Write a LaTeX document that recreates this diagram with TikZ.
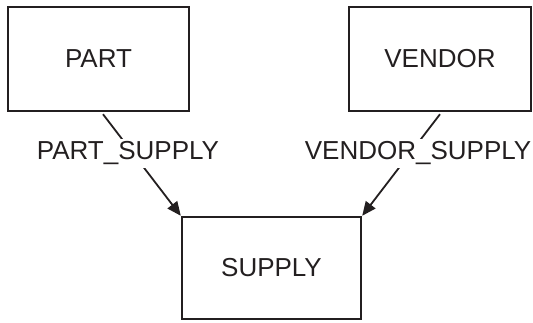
\documentclass[tikz,border=0pt]{standalone}
\usepackage{fontspec}
\setmainfont{Liberation Sans}
\usetikzlibrary{arrows.meta}
\definecolor{ink}{HTML}{231F20}
\begin{document}
\begin{tikzpicture}[x=1pt,y=1pt,
  entity/.style={draw=ink, line width=2.4pt, rectangle, text=ink,
    font=\fontsize{26}{31}\selectfont, inner sep=0pt},
  rel/.style={draw=ink, line width=1.8pt, -{Triangle[length=14pt,width=12pt]}},
  rellabel/.style={fill=white, text=ink, font=\fontsize{26}{31}\selectfont, inner sep=3pt}
]
\useasboundingbox (0,0) rectangle (533,322);
\node[entity, minimum width=181pt, minimum height=104pt] (part) at (98.5,263) {PART};
\node[entity, minimum width=182pt, minimum height=104pt] (vendor) at (440,263) {VENDOR};
\node[entity, minimum width=179pt, minimum height=102pt] (supply) at (271.5,54) {SUPPLY};
\draw[rel] ([xshift=4.5pt,yshift=-2pt]part.south) -- node[rellabel, pos=0.385, xshift=-5pt] {PART\_SUPPLY} (supply.north west);
\draw[rel] ([yshift=-2pt]vendor.south) -- node[rellabel, pos=0.385, xshift=8pt] {VENDOR\_SUPPLY} (supply.north east);
\end{tikzpicture}
\end{document}
